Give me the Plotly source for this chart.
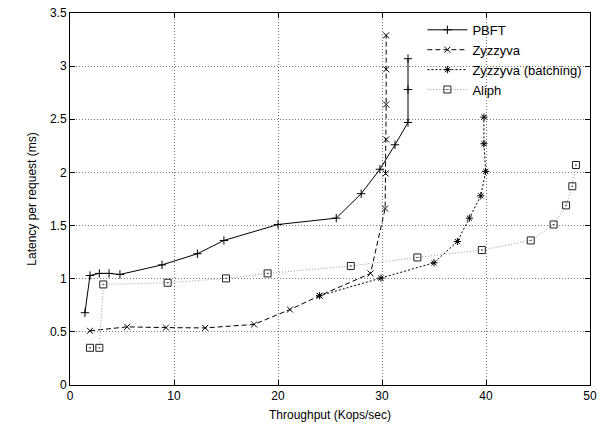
import plotly.graph_objects as go

pbft_x = [1.44, 1.92, 2.82, 3.75, 4.8, 8.85, 12.25, 14.8, 20.0, 25.6, 28.0, 29.8, 31.25, 32.5, 32.5, 32.5]
pbft_y = [0.68, 1.03, 1.05, 1.05, 1.04, 1.13, 1.235, 1.36, 1.51, 1.57, 1.80, 2.03, 2.26, 2.47, 2.78, 3.07]

zyz_x = [1.92, 5.5, 9.23, 13.0, 17.7, 21.15, 24.0, 28.9, 30.3, 30.35, 30.4, 30.4, 30.4, 30.4]
zyz_y = [0.51, 0.547, 0.54, 0.537, 0.57, 0.71, 0.84, 1.05, 1.66, 1.99, 2.31, 2.64, 2.97, 3.29]

zyzb_x = [24.0, 29.9, 35.0, 37.25, 38.4, 39.5, 39.97, 39.8, 39.8]
zyzb_y = [0.84, 1.006, 1.15, 1.35, 1.57, 1.78, 2.01, 2.27, 2.52]

aliph_x = [1.92, 2.82, 3.2, 9.39, 15.0, 19.0, 27.0, 33.4, 39.6, 44.3, 46.5, 47.7, 48.3, 48.65]
aliph_y = [0.35, 0.35, 0.946, 0.962, 1.003, 1.05, 1.12, 1.20, 1.27, 1.36, 1.51, 1.69, 1.87, 2.07]

x_ticks = [0, 10, 20, 30, 40, 50]
y_ticks = [0, 0.5, 1, 1.5, 2, 2.5, 3, 3.5]

font = "Liberation Sans, Arial, Helvetica, sans-serif"

fig = go.Figure()
fig.add_trace(go.Scatter(x=pbft_x, y=pbft_y, name="PBFT", mode="lines+markers",
                         line=dict(color="black", width=1),
                         marker=dict(symbol="cross-thin-open", size=6, line=dict(color="black", width=1))))
fig.add_trace(go.Scatter(x=zyz_x, y=zyz_y, name="Zyzzyva", mode="lines+markers",
                         line=dict(color="black", width=1, dash="5px,3px"),
                         marker=dict(symbol="x-thin-open", size=6, line=dict(color="black", width=1))))
fig.add_trace(go.Scatter(x=zyzb_x, y=zyzb_y, name="Zyzzyva (batching)", mode="lines+markers",
                         line=dict(color="black", width=1, dash="2px,2px"),
                         marker=dict(symbol="asterisk-open", size=6, line=dict(color="black", width=1))))
fig.add_trace(go.Scatter(x=aliph_x, y=aliph_y, name="Aliph", mode="lines+markers",
                         line=dict(color="#999999", width=1, dash="1px,2px"),
                         marker=dict(symbol="square-open-dot", size=7, color="#222222",
                                     line=dict(color="#222222", width=1))))

axis_common = dict(showline=True, linecolor="black", linewidth=1, mirror="ticks",
                   ticks="inside", ticklen=5, tickcolor="black",
                   showgrid=True, gridcolor="#777777", griddash="1px,2px", gridwidth=1,
                   zeroline=False, automargin=False,
                   tickfont=dict(family=font, size=12, color="black"))

fig.update_xaxes(range=[0, 50], tickvals=x_ticks,
                 title=dict(text="Throughput (Kops/sec)", font=dict(family=font, size=12, color="black"), standoff=8),
                 **axis_common)
fig.update_yaxes(range=[0, 3.5], tickvals=y_ticks,
                 title=dict(text="Latency per request (ms)", font=dict(family=font, size=12, color="black"), standoff=10),
                 **axis_common)

fig.update_layout(width=601, height=428,
                  margin=dict(l=70, r=11, t=13, b=43),
                  paper_bgcolor="white", plot_bgcolor="white",
                  font=dict(family=font, size=12, color="black"),
                  legend=dict(x=0.995, y=0.995, xanchor="right", yanchor="top",
                              bgcolor="rgba(255,255,255,0)", font=dict(family=font, size=13),
                              tracegroupgap=0, itemwidth=40))

fig.write_html("out.html", config={"displayModeBar": False},
               post_script="document.body.style.margin='0';")
